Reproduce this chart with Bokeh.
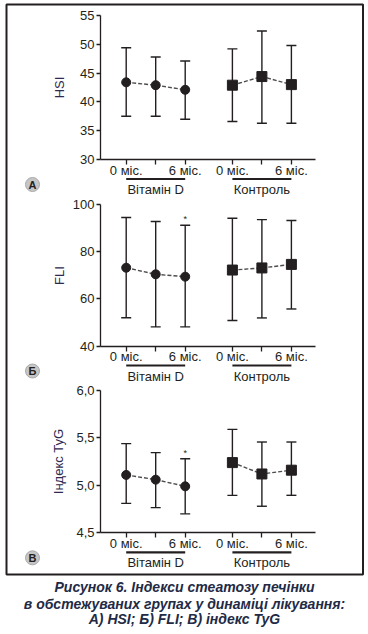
from bokeh.plotting import figure
from bokeh.models import Range1d, LinearAxis, FixedTicker, CustomJSTickFormatter
from bokeh.core.properties import value
from bokeh.embed import file_html
from bokeh.resources import INLINE

# ---------------- data ----------------
MONTH_LABELS = ["0 міс.", "", "6 міс."]
GROUPS = ["Вітамін D", "Контроль"]
PANEL_LETTERS = ["А", "Б", "В"]
Y_LABELS = ["HSI", "FLI", "Індекс TyG"]

hsi_vitd_mean = [43.4, 42.9, 42.1]
hsi_vitd_low = [37.5, 37.5, 37.0]
hsi_vitd_high = [49.4, 47.8, 47.1]
hsi_ctrl_mean = [42.9, 44.4, 43.0]
hsi_ctrl_low = [36.6, 36.3, 36.3]
hsi_ctrl_high = [49.2, 52.3, 49.8]
hsi_ticks = [30, 35, 40, 45, 50, 55]
hsi_sig = ["", "", ""]

fli_vitd_mean = [73.2, 70.4, 69.4]
fli_vitd_low = [52.0, 48.1, 48.1]
fli_vitd_high = [94.5, 92.8, 91.2]
fli_ctrl_mean = [72.2, 73.1, 74.6]
fli_ctrl_low = [50.8, 51.9, 55.7]
fli_ctrl_high = [94.2, 93.6, 93.2]
fli_ticks = [40, 60, 80, 100]
fli_sig = ["", "", "*"]

tyg_vitd_mean = [5.11, 5.06, 4.99]
tyg_vitd_low = [4.81, 4.765, 4.70]
tyg_vitd_high = [5.44, 5.345, 5.28]
tyg_ctrl_mean = [5.24, 5.12, 5.16]
tyg_ctrl_low = [4.895, 4.78, 4.895]
tyg_ctrl_high = [5.59, 5.457, 5.457]
tyg_ticks = [4.5, 5.0, 5.5, 6.0]
tyg_sig = ["", "", "*"]

CAPTION = [
    "Рисунок 6. Індекси стеатозу печінки",
    "в обстежуваних групах у динаміці лікування:",
    "А) HSI; Б) FLI; В) індекс TyG",
]

# ---------------- layout ----------------
DARK = "#231f20"
LABEL_COLOR = "#2e2a4f"
CAP_COLOR = "#222a45"
FONT_NAME = "Liberation Sans"
FONT = value(FONT_NAME)

W, H = 366, 632
PX0, STEP = 125.7, 5.9          # layout units: reference-pixel based


def ux(px):
    return (px - PX0) / STEP


SLOTS = [0, 5, 10]
GROUP_OFFSETS = [0, 18]
TOP_PX, BOT_PX = 0, H

panels = [
    dict(name="hsi", ticks=hsi_ticks, vtop=55, ptop=15, vbot=30, pbot=159,
         groups=[(hsi_vitd_mean, hsi_vitd_low, hsi_vitd_high, "circle", 9, hsi_sig),
                 (hsi_ctrl_mean, hsi_ctrl_low, hsi_ctrl_high, "square", 10, ["", "", ""])],
         standoff=10, comma=False),
    dict(name="fli", ticks=fli_ticks, vtop=100, ptop=204, vbot=40, pbot=345.5,
         groups=[(fli_vitd_mean, fli_vitd_low, fli_vitd_high, "circle", 9, fli_sig),
                 (fli_ctrl_mean, fli_ctrl_low, fli_ctrl_high, "square", 10, ["", "", ""])],
         standoff=3, comma=False),
    dict(name="tyg", ticks=tyg_ticks, vtop=6.0, ptop=390, vbot=4.5, pbot=532.3,
         groups=[(tyg_vitd_mean, tyg_vitd_low, tyg_vitd_high, "circle", 9, tyg_sig),
                 (tyg_ctrl_mean, tyg_ctrl_low, tyg_ctrl_high, "square", 10, ["", "", ""])],
         standoff=7, comma=True),
]

p = figure(width=W, height=H,
           x_range=Range1d(ux(0), ux(W)),
           y_range=Range1d(BOT_PX, TOP_PX),
           x_axis_type=None, y_axis_type=None,
           toolbar_location=None, output_backend="svg",
           min_border=0, outline_line_color=None,
           background_fill_color="white", border_fill_color="white")

extra = {}
for pn in panels:
    s = (pn["vtop"] - pn["vbot"]) / (pn["pbot"] - pn["ptop"])
    extra[pn["name"]] = Range1d(start=pn["vbot"] - (BOT_PX - pn["pbot"]) * s,
                                end=pn["vtop"] + (pn["ptop"] - TOP_PX) * s)
p.extra_y_ranges = extra

# outer frame
p.quad(left=[ux(6)], right=[ux(362.5)], top=[4], bottom=[574],
       fill_color=None, line_color=DARK, line_width=2)

xticks = [g + s for g in GROUP_OFFSETS for s in SLOTS]

for i, pn in enumerate(panels):
    name = pn["name"]
    # y axis
    if pn["comma"]:
        yfmt = CustomJSTickFormatter(code="return tick.toFixed(1).replace('.', ',');")
    else:
        yfmt = CustomJSTickFormatter(code="return tick.toFixed(0);")
    ya = LinearAxis(y_range_name=name, fixed_location=ux(100),
                    bounds=(pn["vbot"], pn["vtop"]),
                    ticker=FixedTicker(ticks=pn["ticks"]), formatter=yfmt,
                    axis_label=Y_LABELS[i], axis_label_standoff=pn["standoff"],
                    axis_label_text_font=FONT_NAME, axis_label_text_font_size="13px",
                    axis_label_text_font_style="normal", axis_label_text_color=LABEL_COLOR,
                    major_label_text_font=FONT_NAME, major_label_text_font_size="13px",
                    major_label_text_color=DARK, major_label_standoff=2,
                    axis_line_color=DARK, axis_line_width=1.3,
                    major_tick_line_color=DARK, major_tick_line_width=1.3,
                    major_tick_out=4, major_tick_in=0, minor_tick_line_color=None)
    p.add_layout(ya, "left")
    # x axis
    xa = LinearAxis(y_range_name=name, fixed_location=pn["vbot"],
                    bounds=(ux(100), ux(315)),
                    ticker=FixedTicker(ticks=xticks),
                    formatter=CustomJSTickFormatter(args=dict(labels=MONTH_LABELS * 2),
                                                    code="return labels[index];"),
                    major_label_text_font=FONT_NAME, major_label_text_font_size="13px",
                    major_label_text_color=DARK, major_label_standoff=-2,
                    axis_line_color=DARK, axis_line_width=1.3,
                    major_tick_line_color=DARK, major_tick_line_width=1.3,
                    major_tick_out=5, major_tick_in=0, minor_tick_line_color=None)
    p.add_layout(xa, "below")

    for g, (mean, low, high, marker, size, sig) in enumerate(pn["groups"]):
        xs = [GROUP_OFFSETS[g] + s for s in SLOTS]
        p.line(xs, mean, y_range_name=name, line_color="#4d4d4d", line_width=1.4,
               line_dash="4 2")
        p.segment(x0=xs, y0=low, x1=xs, y1=high, y_range_name=name,
                  line_color=DARK, line_width=1.4)
        p.scatter(xs + xs, low + high, y_range_name=name, marker="dash", size=10,
                  line_color=DARK, line_width=1.4)
        p.scatter(xs, mean, y_range_name=name, marker=marker, size=size,
                  fill_color=DARK, line_color=DARK)
        sx = [x for x, t in zip(xs, sig) if t]
        sy = [h for h, t in zip(high, sig) if t]
        st = [t for t in sig if t]
        if st:
            p.text(sx, sy, text=st, y_range_name=name, text_font=FONT,
                   text_font_size="9px", text_color=DARK, text_align="center",
                   text_baseline="middle", y_offset=-6)

    # group underline + labels (layout coordinates)
    base = pn["pbot"]
    for g, gname in enumerate(GROUPS):
        x0 = GROUP_OFFSETS[g] + SLOTS[0]
        x1 = GROUP_OFFSETS[g] + SLOTS[-1]
        p.segment(x0=[x0], y0=[base + 19.5], x1=[x1], y1=[base + 19.5],
                  line_color=DARK, line_width=2.2)
        p.text([(x0 + x1) / 2], [base + 30], text=[gname], text_font=FONT,
               text_font_size="13px", text_color=DARK, text_align="center",
               text_baseline="middle")
    # badge
    p.scatter([ux(32)], [base + 25], marker="circle", size=14,
              fill_color="#c6c6c6", line_color="#a9a9a9", line_width=1)
    p.text([ux(32)], [base + 25], text=[PANEL_LETTERS[i]], text_font=FONT,
           text_font_size="11px", text_font_style="bold", text_color=DARK,
           text_align="center", text_baseline="middle")

# caption
for k, (line, yy) in enumerate(zip(CAPTION, [586.7, 603.5, 618.5])):
    p.text([ux(184)], [yy], text=[line], text_font=FONT, text_font_size="14px",
           text_font_style="bold italic", text_color=CAP_COLOR,
           text_align="center", text_baseline="middle")

open("out.html", "w").write(file_html(p, INLINE))
